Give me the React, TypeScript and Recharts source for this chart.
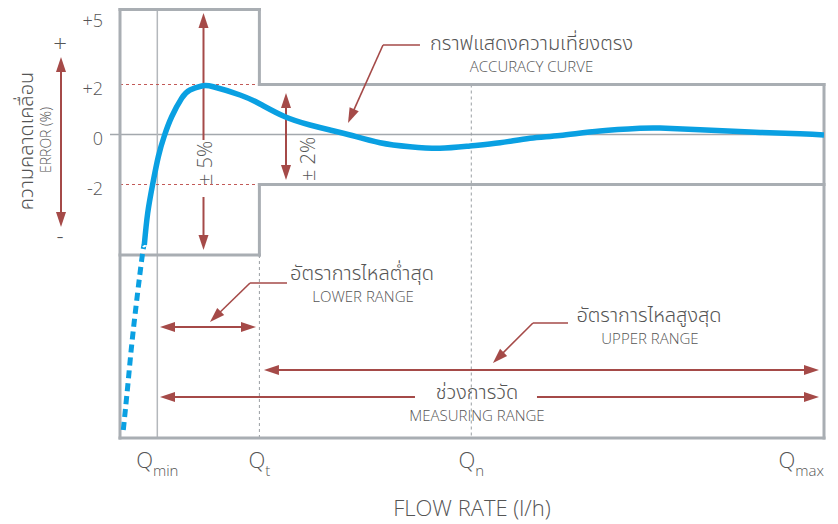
import React from 'react';
import { ComposedChart, Line, XAxis, YAxis, ReferenceLine, ReferenceDot } from 'recharts';

const FONT = "'Open Sans', 'Noto Sans', 'Noto Sans Thai', 'Loma', 'Garuda', 'DejaVu Sans', sans-serif";
const GREY = '#a9aeb3';
const THIN_GREY = '#b4b8bc';
const DASH_GREY = '#9a9ea3';
const RED = '#a54a48';
const RED_DOT = '#c25a58';
const BLUE = '#0aa0e2';
const TEXT = '#555555';

// accuracy curve (flow axis 0..100, error in %)
const accuracyCurve = [
  { q: 3.45, err: -4.42 },
  { q: 3.93, err: -3.15 },
  { q: 4.62, err: -2.02 },
  { q: 5.44, err: -0.89 },
  { q: 6.29, err: -0.06 },
  { q: 7.34, err: 0.71 },
  { q: 8.76, err: 1.45 },
  { q: 9.94, err: 1.78 },
  { q: 11.61, err: 1.94 },
  { q: 13.25, err: 1.91 },
  { q: 17.05, err: 1.58 },
  { q: 19.89, err: 1.22 },
  { q: 23.44, err: 0.71 },
  { q: 26.99, err: 0.38 },
  { q: 29.83, err: 0.18 },
  { q: 32.67, err: -0.02 },
  { q: 36.93, err: -0.33 },
  { q: 41.19, err: -0.49 },
  { q: 45.45, err: -0.55 },
  { q: 49.72, err: -0.46 },
  { q: 53.98, err: -0.33 },
  { q: 58.24, err: -0.15 },
  { q: 62.5, err: -0.04 },
  { q: 68.18, err: 0.14 },
  { q: 73.86, err: 0.25 },
  { q: 76.7, err: 0.26 },
  { q: 82.39, err: 0.19 },
  { q: 89.49, err: 0.1 },
  { q: 96.59, err: 0.03 },
  { q: 100, err: -0.02 },
];

// extrapolated tail below Qmin (dashed)
const lowFlowTail = [
  { q: 0.47, err: -11.82 },
  { q: 1.18, err: -9.82 },
  { q: 1.89, err: -7.82 },
  { q: 3.08, err: -5.02 },
  { q: 3.45, err: -4.42 },
];

const Q_MIN = 5.3;
const Q_T = 19.8;
const Q_N = 49.9;
const Q_MAX = 100;
const qTicks = [Q_MIN, Q_T, Q_N, Q_MAX];
const qLabels = [
  ['Q', 'min'],
  ['Q', 't'],
  ['Q', 'n'],
  ['Q', 'max'],
];

const errTicks = [5, 2, 0, -2];
const errLabels = ['+5', '+2', '0', '-2'];

const ERR_TOP = 5.22;
const ERR_BOTTOM = -12.14;
const WIDE_LIMIT = 5;
const WIDE_LOW = -4.82;
const NARROW_LIMIT = 2;

// boundary frame segments [q1, e1, q2, e2]
const frameSegments = [
  [Q_T, NARROW_LIMIT, Q_T, WIDE_LIMIT],
  [Q_T, WIDE_LIMIT, 0, WIDE_LIMIT],
  [0, WIDE_LIMIT, 0, ERR_BOTTOM],
  [0, ERR_BOTTOM, Q_MAX, ERR_BOTTOM],
  [Q_MAX, ERR_BOTTOM, Q_MAX, NARROW_LIMIT],
  [Q_MAX, NARROW_LIMIT, Q_T, NARROW_LIMIT],
  [Q_T, -NARROW_LIMIT, Q_MAX, -NARROW_LIMIT],
  [Q_T, -NARROW_LIMIT, Q_T, WIDE_LOW],
  [Q_T, WIDE_LOW, 0, WIDE_LOW],
];

// annotation arrows [q1, e1, q2, e2]
const doubleArrows = [
  [-8.38, 3.1, -8.38, -3.7],
  [23.58, 1.66, 23.58, -1.82],
  [5.68, -7.7, 19.32, -7.7],
  [20.45, -9.42, 99.29, -9.42],
];
const singleArrows = [
  [11.86, -0.22, 11.86, 4.86],
  [11.86, -2.5, 11.86, -4.62],
  [41.9, -10.5, 5.68, -10.5],
  [59.23, -10.5, 99.29, -10.5],
];
const leaderArrows = [
  [37.36, 3.58, 32.39, 0.46],
  [18.47, -5.94, 12.78, -7.5],
  [58.66, -7.54, 52.98, -9.14],
];
const leaderStems = [
  [42.61, 3.58, 37.36, 3.58],
  [23.72, -5.94, 18.47, -5.94],
  [63.64, -7.54, 58.66, -7.54],
];

type Note = { q: number; e: number; text: string; size: number; rotate?: boolean };
const notes: Note[] = [
  { q: -8.52, e: 3.7, text: '+', size: 24 },
  { q: -8.52, e: -4.0, text: '-', size: 22 },
  { q: -13.49, e: -0.26, text: 'ความคลาดเคลื่อน', size: 20, rotate: true },
  { q: -10.65, e: -0.22, text: 'ERROR (%)', size: 14, rotate: true },
  { q: 12.07, e: -1.14, text: '± 5%', size: 20, rotate: true },
  { q: 26.7, e: -0.98, text: '± 2%', size: 20, rotate: true },
  { q: 58.45, e: 3.68, text: 'กราฟแสดงความเที่ยงตรง', size: 20 },
  { q: 58.45, e: 2.74, text: 'ACCURACY CURVE', size: 15 },
  { q: 34.38, e: -5.52, text: 'อัตราการไหลต่ำสุด', size: 20 },
  { q: 34.52, e: -6.46, text: 'LOWER RANGE', size: 15 },
  { q: 75.14, e: -7.2, text: 'อัตราการไหลสูงสุด', size: 20 },
  { q: 75.28, e: -8.14, text: 'UPPER RANGE', size: 15 },
  { q: 50.71, e: -10.26, text: 'ช่วงการวัด', size: 20 },
  { q: 50.71, e: -11.2, text: 'MEASURING RANGE', size: 15 },
];

const headPath = (tx: number, ty: number, ux: number, uy: number) => {
  const L = 15;
  const W = 5;
  const bx = tx - ux * L;
  const by = ty - uy * L;
  return `M${tx},${ty} L${bx - uy * W},${by + ux * W} L${bx + uy * W},${by - ux * W} Z`;
};

const arrowShape = (heads: 'none' | 'end' | 'both', width: number) => (p: any) => {
  const { x1, y1, x2, y2 } = p;
  const dx = x2 - x1;
  const dy = y2 - y1;
  const len = Math.hypot(dx, dy) || 1;
  const ux = dx / len;
  const uy = dy / len;
  const sx = heads === 'both' ? x1 + ux * 10 : x1;
  const sy = heads === 'both' ? y1 + uy * 10 : y1;
  const ex = heads === 'none' ? x2 : x2 - ux * 10;
  const ey = heads === 'none' ? y2 : y2 - uy * 10;
  return (
    <g>
      <line x1={sx} y1={sy} x2={ex} y2={ey} stroke={RED} strokeWidth={width} />
      {heads !== 'none' && <path d={headPath(x2, y2, ux, uy)} fill={RED} />}
      {heads === 'both' && <path d={headPath(x1, y1, -ux, -uy)} fill={RED} />}
    </g>
  );
};

const noteShape = (n: Note) => (p: any) => {
  const { cx, cy } = p;
  return (
    <text
      x={cx}
      y={cy}
      textAnchor="middle"
      dominantBaseline="central"
      fontFamily={FONT}
      fontWeight={300}
      fontSize={n.size}
      fill={TEXT}
      transform={n.rotate ? `rotate(-90, ${cx}, ${cy})` : undefined}
    >
      {n.text}
    </text>
  );
};

const QTick = (props: any) => {
  const { x, y, payload } = props;
  const i = qTicks.indexOf(payload.value);
  const [main, sub] = qLabels[i] || ['', ''];
  const last = i === qTicks.length - 1;
  return (
    <text
      x={x}
      y={y + 22}
      textAnchor={last ? 'end' : 'middle'}
      fontFamily={FONT}
      fontWeight={300}
      fill={TEXT}
    >
      <tspan fontSize={22}>{main}</tspan>
      <tspan fontSize={15} dy={8}>{sub}</tspan>
    </text>
  );
};

const ErrTick = (props: any) => {
  const { x, y, payload } = props;
  const i = errTicks.indexOf(payload.value);
  return (
    <text
      x={x - 9}
      y={Math.max(y + 3, 20)}
      textAnchor="end"
      dominantBaseline="central"
      fontFamily={FONT}
      fontWeight={300}
      fontSize={18}
      fill={TEXT}
    >
      {errLabels[i]}
    </text>
  );
};

const seg = (s: number[]) => [
  { x: s[0], y: s[1] },
  { x: s[2], y: s[3] },
];

export default function App() {
  return (
    <div style={{ position: 'absolute', left: 0, top: 0, background: '#fff' }}>
      <ComposedChart width={838} height={524} margin={{ top: 4, right: 14, bottom: 0, left: 60 }}>
        <XAxis
          type="number"
          dataKey="q"
          domain={[0, Q_MAX]}
          ticks={qTicks}
          allowDataOverflow
          axisLine={false}
          tickLine={false}
          height={86}
          tick={<QTick />}
          interval={0}
          label={{
            value: 'FLOW RATE (l/h)',
            position: 'insideBottom',
            offset: 8,
            fontSize: 22,
            fontFamily: FONT,
            fontWeight: 300,
            fill: TEXT,
          }}
        />
        <YAxis
          type="number"
          dataKey="err"
          domain={[ERR_BOTTOM, ERR_TOP]}
          ticks={errTicks}
          allowDataOverflow
          axisLine={false}
          tickLine={false}
          width={60}
          tick={<ErrTick />}
          interval={0}
        />

        {/* thin guide lines */}
        <ReferenceLine segment={seg([-1.42, 0, Q_MAX, 0])} stroke="#a3a8ad" strokeWidth={1.5} ifOverflow="visible" />
        <ReferenceLine segment={seg([Q_MIN, WIDE_LIMIT, Q_MIN, ERR_BOTTOM])} stroke={THIN_GREY} strokeWidth={1.5} ifOverflow="visible" />
        <ReferenceLine segment={seg([Q_T, WIDE_LOW, Q_T, ERR_BOTTOM])} stroke={DASH_GREY} strokeWidth={1} strokeDasharray="3 3" ifOverflow="visible" />
        <ReferenceLine segment={seg([Q_N, NARROW_LIMIT, Q_N, ERR_BOTTOM])} stroke={DASH_GREY} strokeWidth={1} strokeDasharray="3 3" ifOverflow="visible" />
        <ReferenceLine segment={seg([0, NARROW_LIMIT, Q_T, NARROW_LIMIT])} stroke={RED_DOT} strokeWidth={1} strokeDasharray="3 3" ifOverflow="visible" />
        <ReferenceLine segment={seg([0, -NARROW_LIMIT, Q_T, -NARROW_LIMIT])} stroke={RED_DOT} strokeWidth={1} strokeDasharray="3 3" ifOverflow="visible" />

        {/* boundary frame */}
        {frameSegments.map((s, i) => (
          <ReferenceLine key={`f${i}`} segment={seg(s)} stroke={GREY} strokeWidth={3} strokeLinecap="square" ifOverflow="visible" />
        ))}

        {/* arrows */}
        {doubleArrows.map((s, i) => (
          <ReferenceLine key={`d${i}`} segment={seg(s)} ifOverflow="visible" shape={arrowShape('both', 2)} />
        ))}
        {singleArrows.map((s, i) => (
          <ReferenceLine key={`s${i}`} segment={seg(s)} ifOverflow="visible" shape={arrowShape('end', 2)} />
        ))}
        {leaderArrows.map((s, i) => (
          <ReferenceLine key={`l${i}`} segment={seg(s)} ifOverflow="visible" shape={arrowShape('end', 1.6)} />
        ))}
        {leaderStems.map((s, i) => (
          <ReferenceLine key={`ls${i}`} segment={seg(s)} ifOverflow="visible" shape={arrowShape('none', 1.6)} />
        ))}

        <Line
          data={lowFlowTail}
          dataKey="err"
          type="natural"
          stroke={BLUE}
          strokeWidth={5}
          strokeDasharray="8 5"
          dot={false}
          activeDot={false}
          isAnimationActive={false}
        />
        <Line
          data={accuracyCurve}
          dataKey="err"
          type="natural"
          stroke={BLUE}
          strokeWidth={5.5}
          dot={false}
          activeDot={false}
          isAnimationActive={false}
        />

        {notes.map((n, i) => (
          <ReferenceDot key={`n${i}`} x={n.q} y={n.e} ifOverflow="visible" shape={noteShape(n)} />
        ))}
      </ComposedChart>
    </div>
  );
}
